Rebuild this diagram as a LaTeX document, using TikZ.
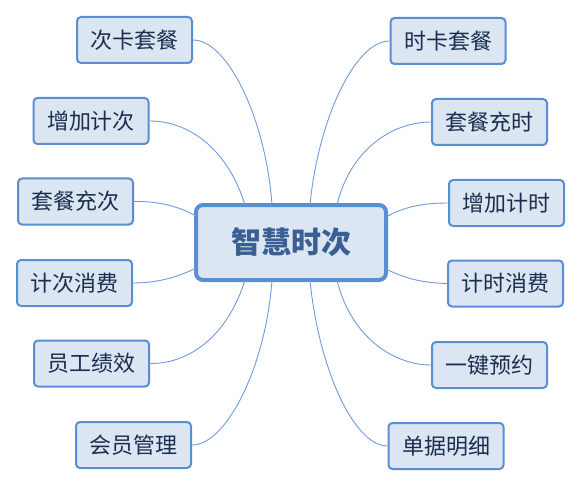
\documentclass[tikz,border=0pt]{standalone}
\usepackage{fontspec}
\newfontfamily\cjk{Noto Sans CJK SC}
\usetikzlibrary{calc}
\definecolor{leaffill}{HTML}{DCE6F2}
\definecolor{leafdraw}{HTML}{5A8ED2}
\definecolor{leaftext}{HTML}{1B2E4F}
\definecolor{roottext}{HTML}{395F93}
\definecolor{linkcol}{HTML}{6F9BDA}
\tikzset{
  leaf/.style={draw=leafdraw, fill=leaffill, line width=2pt, rounded corners=4pt,
    minimum width=115pt, minimum height=46pt, inner sep=0pt, text=leaftext,
    font=\cjk\fontsize{22pt}{25pt}\selectfont},
  rootbox/.style={draw=leafdraw, fill=leaffill, line width=4pt, rounded corners=7pt,
    minimum width=190pt, minimum height=75pt, inner sep=0pt, outer sep=0pt, text=roottext,
    font=\cjk\bfseries\fontsize{30pt}{33pt}\selectfont},
  link/.style={draw=linkcol, line width=0.9pt}
}
\begin{document}
\begin{tikzpicture}[x=1pt,y=-1pt]
\useasboundingbox (0,0) rectangle (582,487);
\node[rootbox] (c) at (291,242.5) {智慧时次};
% left leaves
\node[leaf] (l1) at (134.5,40) {次卡套餐};
\node[leaf] (l2) at (91,121) {增加计次};
\node[leaf] (l3) at (75.5,201.5) {套餐充次};
\node[leaf] (l4) at (74.5,283) {计次消费};
\node[leaf] (l5) at (91.5,363.5) {员工绩效};
\node[leaf] (l6) at (133.5,445) {会员管理};
% right leaves
\node[leaf] (r1) at (448,41) {时卡套餐};
\node[leaf] (r2) at (489.5,122) {套餐充时};
\node[leaf] (r3) at (506.5,203) {增加计时};
\node[leaf] (r4) at (505.5,283.5) {计时消费};
\node[leaf] (r5) at (489.5,365) {一键预约};
\node[leaf] (r6) at (446,446) {单据明细};
% attachment points on the root border
\coordinate (e1) at (272,205);
\coordinate (e2) at (245,205);
\coordinate (e3) at (196,216);
\coordinate (e4) at (196,268);
\coordinate (e5) at (245,280);
\coordinate (e6) at (272,280);
\coordinate (f1) at (310,205);
\coordinate (f2) at (337,205);
\coordinate (f3) at (386,217);
\coordinate (f4) at (386,269);
\coordinate (f5) at (337,280);
\coordinate (f6) at (310,280);
% connectors
\draw[link] (l1.east) .. controls (228,40) and (266,120) .. (e1);
\draw[link] (l2.east) .. controls (190,121) and (228,150) .. (e2);
\draw[link] (l3.east) .. controls (160,201) and (180,207) .. (e3);
\draw[link] (l4.east) .. controls (160,283) and (180,276) .. (e4);
\draw[link] (l5.east) .. controls (190,364) and (228,335) .. (e5);
\draw[link] (l6.east) .. controls (227,445) and (266,365) .. (e6);
\draw[link] (r1.west) .. controls (355,41) and (318,120) .. (f1);
\draw[link] (r2.west) .. controls (392,122) and (350,150) .. (f2);
\draw[link] (r3.west) .. controls (420,203) and (402,208) .. (f3);
\draw[link] (r4.west) .. controls (420,283) and (402,277) .. (f4);
\draw[link] (r5.west) .. controls (392,365) and (350,335) .. (f5);
\draw[link] (r6.west) .. controls (353,446) and (318,365) .. (f6);
\end{tikzpicture}
\end{document}
